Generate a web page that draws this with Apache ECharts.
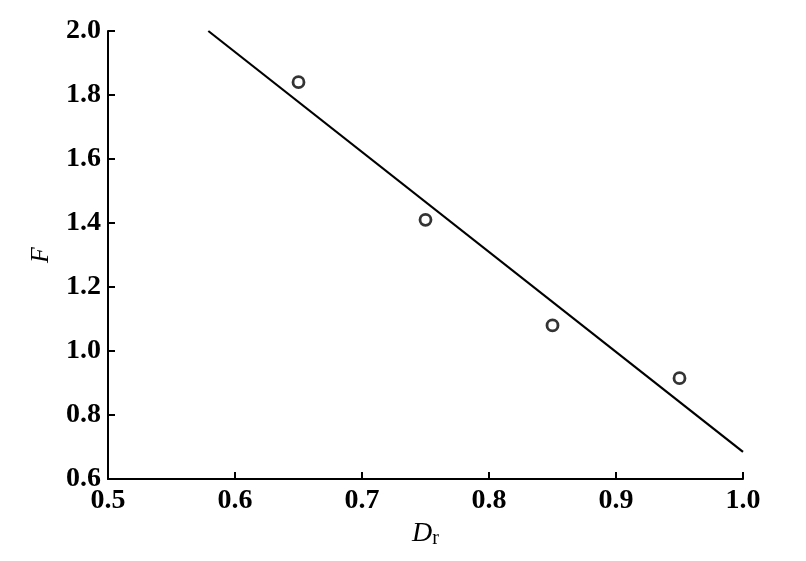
<!DOCTYPE html>
<html>
<head>
<meta charset="utf-8">
<script src="https://cdn.jsdelivr.net/npm/echarts@6/dist/echarts.min.js"></script>
<style>html,body{margin:0;padding:0;background:#fff;}#c{width:806px;height:561px;}</style>
</head>
<body>
<div id="c"></div>
<script>
var pointsDr = [0.65, 0.75, 0.85, 0.95];
var pointsF = [1.84, 1.41, 1.08, 0.915];
var fitDr = [0.579, 1.0];
var fitF = [2.0, 0.685];
var xTicks = {min: 0.5, max: 1.0, step: 0.1};
var yTicks = {min: 0.6, max: 2.0, step: 0.2};

var chart = echarts.init(document.getElementById('c'), null, {renderer: 'canvas'});
var font = '"Liberation Serif", "DejaVu Serif", serif';
function axisCommon() {
  return {
    axisLine: {show: true, onZero: false, lineStyle: {color: '#000', width: 2}},
    axisTick: {show: true, inside: true, length: 7, lineStyle: {color: '#000', width: 2}},
    splitLine: {show: false},
    axisLabel: {color: '#000', fontFamily: font, fontSize: 28, fontWeight: 'bold',
      formatter: function (v) { return v.toFixed(1); }}
  };
}
var xa = axisCommon();
xa.type = 'value'; xa.min = xTicks.min; xa.max = xTicks.max; xa.interval = xTicks.step;
xa.axisLabel.margin = 8;
xa.name = '{i|D}{s|r}';
xa.nameLocation = 'middle';
xa.nameGap = 40;
xa.nameTextStyle = {rich: {
  i: {fontFamily: font, fontStyle: 'italic', fontSize: 28, color: '#000'},
  s: {fontFamily: font, fontSize: 20, color: '#000', verticalAlign: 'bottom', padding: [10, 0, 0, 0]}
}};
var ya = axisCommon();
ya.type = 'value'; ya.min = yTicks.min; ya.max = yTicks.max; ya.interval = yTicks.step;
ya.axisLabel.margin = 7;
ya.name = 'F';
ya.nameLocation = 'middle';
ya.nameGap = 54;
ya.nameTextStyle = {fontFamily: font, fontStyle: 'italic', fontSize: 26, color: '#000'};

chart.setOption({
  animation: false,
  backgroundColor: '#fff',
  grid: {left: 108, right: 63, top: 31, bottom: 82, containLabel: false},
  xAxis: xa,
  yAxis: ya,
  series: [
    {
      type: 'line',
      data: fitDr.map(function (x, i) { return [x, fitF[i]]; }),
      showSymbol: false, symbol: 'none',
      lineStyle: {color: '#000', width: 2.2},
      silent: true
    },
    {
      type: 'scatter',
      data: pointsDr.map(function (x, i) { return [x, pointsF[i]]; }),
      symbol: 'circle',
      symbolSize: 11,
      itemStyle: {color: '#fff', borderColor: '#000', borderWidth: 2.8}
    }
  ]
});
</script>
</body>
</html>
